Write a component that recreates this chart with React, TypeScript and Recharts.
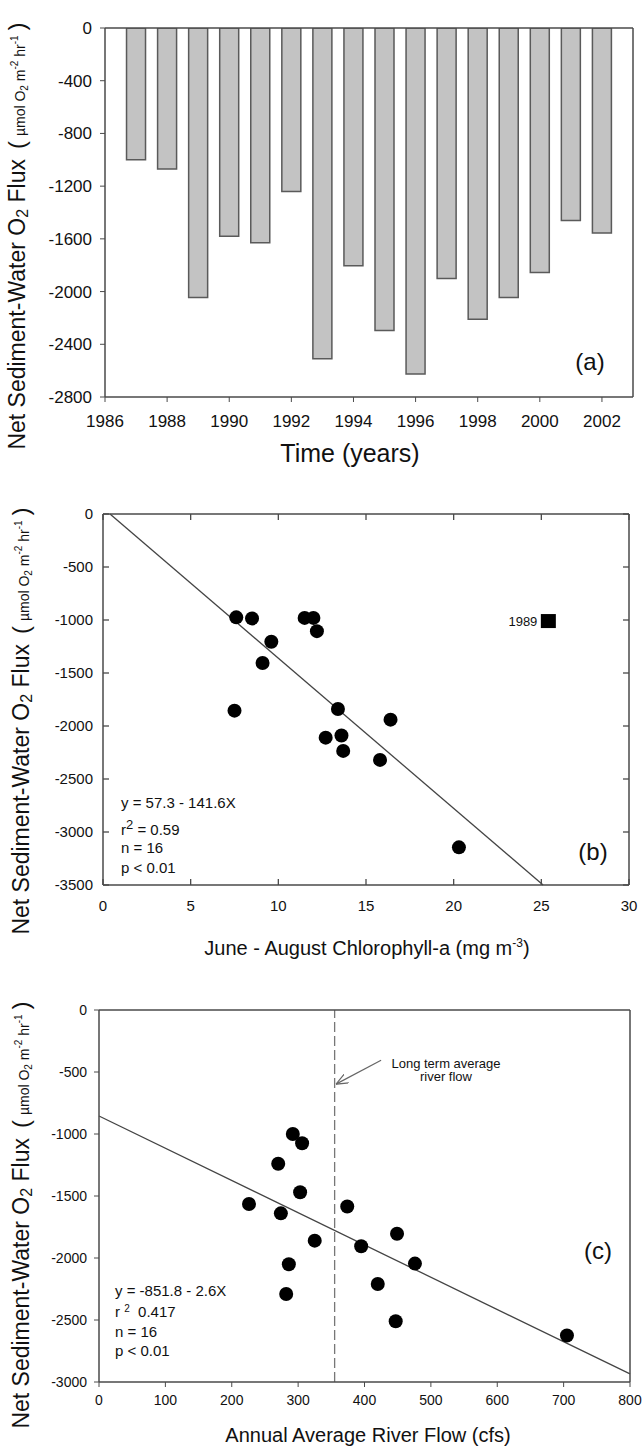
import React from "react";
import { ComposedChart, ScatterChart, Bar, Scatter, XAxis, YAxis, ReferenceLine } from "recharts";

// (a) yearly net sediment-water O2 flux
const years = [1987, 1988, 1989, 1990, 1991, 1992, 1993, 1994, 1995, 1996, 1997, 1998, 1999, 2000, 2001, 2002];
const fluxByYear = [-1000, -1070, -2045, -1580, -1630, -1240, -2510, -1805, -2295, -2625, -1900, -2210, -2045, -1855, -1460, -1555];
const yearTicks = [1986, 1988, 1990, 1992, 1994, 1996, 1998, 2000, 2002];
const fluxTicksA = [0, -400, -800, -1200, -1600, -2000, -2400, -2800];

// (b) flux vs June-August chlorophyll-a
const chlA = [7.6, 8.5, 11.5, 12.0, 12.2, 9.6, 9.1, 7.5, 13.4, 16.4, 12.7, 13.6, 13.7, 15.8, 20.3];
const fluxB = [-975, -985, -980, -980, -1105, -1205, -1405, -1855, -1840, -1940, -2110, -2090, -2235, -2320, -3145];
const outlierYear = ["1989"];
const outlierChl = [25.4];
const outlierFlux = [-1010];
const fitB = [{ x: 0.4, y: 0 }, { x: 25.1, y: -3500 }];
const chlTicks = [0, 5, 10, 15, 20, 25, 30];
const fluxTicksB = [0, -500, -1000, -1500, -2000, -2500, -3000, -3500];

// (c) flux vs annual average river flow
const riverFlow = [226, 270, 274, 292, 306, 303, 325, 286, 282, 374, 395, 449, 476, 420, 447, 705];
const fluxC = [-1565, -1240, -1640, -1000, -1075, -1470, -1860, -2050, -2290, -1585, -1905, -1805, -2045, -2210, -2510, -2625];
const fitC = [{ x: 0, y: -855 }, { x: 800, y: -2935 }];
const avgFlow = 355;
const arrowC = [{ x: 425, y: -405 }, { x: 357, y: -598 }];
const flowTicks = [0, 100, 200, 300, 400, 500, 600, 700, 800];
const fluxTicksC = [0, -500, -1000, -1500, -2000, -2500, -3000];

const barData = years.map((year, i) => ({ year, flux: fluxByYear[i] }));
const chlData = chlA.map((x, i) => ({ x, y: fluxB[i] }));
const outlierData = outlierYear.map((year, i) => ({ year, x: outlierChl[i], y: outlierFlux[i] }));
const flowData = riverFlow.map((x, i) => ({ x, y: fluxC[i] }));

const axisColor = "#4a4a4a";
const ink = "#111";
const frame = { stroke: axisColor, strokeWidth: 1.5 };

// panel (b) layout: 643x440 chart, margins top 33 / right 13 / bottom 5, axes 1 + 30 high, 103 + 1 wide
const B_W = 643 - 13 - 1 - 103;
const B_H = 440 - 33 - 1 - 5 - 30;
const IN = 6; // inward tick length

const dot = (p: any) => <circle cx={p.cx} cy={p.cy} r={7} fill="#000" />;
const square = (p: any) => (
  <g>
    <rect x={p.cx - 7.5} y={p.cy - 7} width={15} height={14} fill="#000" />
    <text x={p.cx - 11} y={p.cy} dy="0.35em" textAnchor="end" fontSize={13} fill={ink}>
      {p.payload.year}
    </text>
  </g>
);

// panel (b) ticks point into the frame on all four sides; label offset = tickSize + tickMargin
const bottomTickB = (p: any) => {
  const axisY = p.y - 15;
  return (
    <g>
      <line x1={p.x} x2={p.x} y1={axisY} y2={axisY - IN} stroke={axisColor} strokeWidth={1.3} />
      <line x1={p.x} x2={p.x} y1={axisY - B_H} y2={axisY - B_H + IN} stroke={axisColor} strokeWidth={1.3} />
      <text x={p.x} y={p.y} dy="0.71em" textAnchor="middle" fontSize={15} fill={ink}>{p.payload.value}</text>
    </g>
  );
};
const leftTickB = (p: any) => {
  const axisX = p.x + 10;
  return (
    <g>
      <line x1={axisX} x2={axisX + IN} y1={p.y} y2={p.y} stroke={axisColor} strokeWidth={1.3} />
      <line x1={axisX + B_W} x2={axisX + B_W - IN} y1={p.y} y2={p.y} stroke={axisColor} strokeWidth={1.3} />
      <text x={p.x} y={p.y} dy="0.355em" textAnchor="end" fontSize={15} fill={ink}>{p.payload.value}</text>
    </g>
  );
};

function FluxLabel({ cx, cy }: { cx: number; cy: number }) {
  return (
    <div
      style={{
        position: "absolute", left: cx, top: cy, whiteSpace: "nowrap", color: ink, lineHeight: 1,
        transform: "translate(-50%, -50%) rotate(-90deg)",
      }}
    >
      <span style={{ fontSize: 23 }}>
        Net Sediment-Water O<span style={{ fontSize: 16, verticalAlign: -3 }}>2</span> Flux
      </span>
      <span style={{ fontSize: 24, marginLeft: 10 }}>(</span>
      <span style={{ fontSize: 14, margin: "0 5px" }}>
        µmol O<span style={{ fontSize: 10, verticalAlign: -3 }}>2</span> m<span style={{ fontSize: 10, verticalAlign: 7 }}>-2</span> hr<span style={{ fontSize: 10, verticalAlign: 7 }}>-1</span>
      </span>
      <span style={{ fontSize: 24 }}>)</span>
    </div>
  );
}

function Note({ x, y, size, center, children }: { x: number; y: number; size: number; center?: boolean; children: React.ReactNode }) {
  return (
    <div
      style={{
        position: "absolute", left: x, top: y, fontSize: size, color: ink, lineHeight: 1, whiteSpace: "nowrap",
        transform: center ? "translate(-50%, -50%)" : "translateY(-50%)", textAlign: "center",
      }}
    >
      {children}
    </div>
  );
}

export default function App() {
  return (
    <div style={{ position: "absolute", left: 0, top: 0, width: 643, height: 1446, background: "#fff", fontFamily: "'Liberation Sans', Arial, sans-serif" }}>
      <svg width={0} height={0} style={{ position: "absolute" }}>
        <defs>
          <marker id="openArrow" viewBox="0 0 12 10" refX={12} refY={5} markerWidth={12} markerHeight={10} markerUnits="userSpaceOnUse" orient="auto">
            <path d="M0,0 L12,5 L0,10" fill="none" stroke="#666" strokeWidth={1.2} />
          </marker>
        </defs>
      </svg>

      {/* (a) */}
      <div style={{ position: "absolute", left: 0, top: 0 }}>
        <ComposedChart width={643} height={440} data={barData} margin={{ top: 27, right: 9, left: 0, bottom: 13 }}>
          <XAxis dataKey="year" type="number" domain={[1986, 2003]} ticks={yearTicks} interval={0} allowDataOverflow
            height={30} tickSize={5} tickMargin={13} stroke={axisColor} axisLine={frame} tick={{ fill: ink, fontSize: 17 }} />
          <XAxis xAxisId="top" orientation="top" type="number" domain={[1986, 2003]} ticks={yearTicks} allowDataOverflow
            height={1} tick={false} tickLine={false} stroke={axisColor} axisLine={frame} />
          <YAxis type="number" domain={[-2800, 0]} ticks={fluxTicksA} interval={0} allowDataOverflow
            width={105} tickSize={5} tickMargin={8} stroke={axisColor} axisLine={frame} tick={{ fill: ink, fontSize: 17 }} />
          <YAxis yAxisId="right" orientation="right" type="number" domain={[-2800, 0]} ticks={fluxTicksA} allowDataOverflow
            width={1} tick={false} tickLine={false} stroke={axisColor} axisLine={frame} />
          <Bar dataKey="flux" barSize={19} fill="#c3c3c3" stroke="#5a5a5a" strokeWidth={1.5} isAnimationActive={false} />
        </ComposedChart>
      </div>
      <FluxLabel cx={18} cy={236} />
      <Note x={590} y={362} size={24} center>(a)</Note>
      <Note x={350} y={453} size={25} center>Time (years)</Note>

      {/* (b) */}
      <div style={{ position: "absolute", left: 0, top: 480 }}>
        <ScatterChart width={643} height={440} margin={{ top: 33, right: 13, left: 0, bottom: 5 }}>
          <XAxis dataKey="x" type="number" domain={[0, 30]} ticks={chlTicks} interval={0} allowDataOverflow
            height={30} tickSize={6} tickMargin={9} tickLine={false} stroke={axisColor} axisLine={frame} tick={bottomTickB} />
          <XAxis xAxisId="top" orientation="top" type="number" domain={[0, 30]} ticks={chlTicks} allowDataOverflow
            height={1} tick={false} tickLine={false} stroke={axisColor} axisLine={frame} />
          <YAxis dataKey="y" type="number" domain={[-3500, 0]} ticks={fluxTicksB} interval={0} allowDataOverflow
            width={103} tickSize={6} tickMargin={4} tickLine={false} stroke={axisColor} axisLine={frame} tick={leftTickB} />
          <YAxis yAxisId="right" orientation="right" type="number" domain={[-3500, 0]} ticks={fluxTicksB} allowDataOverflow
            width={1} tick={false} tickLine={false} stroke={axisColor} axisLine={frame} />
          <ReferenceLine segment={fitB} stroke="#444" strokeWidth={1.3} />
          <Scatter data={chlData} shape={dot} isAnimationActive={false} />
          <Scatter data={outlierData} shape={square} isAnimationActive={false} />
        </ScatterChart>
      </div>
      <FluxLabel cx={22} cy={721} />
      <Note x={121} y={802} size={15}>y = 57.3 - 141.6X</Note>
      <Note x={121} y={827} size={15}>r<span style={{ fontSize: 13, verticalAlign: 6 }}>2</span> = 0.59</Note>
      <Note x={121} y={847} size={15}>n = 16</Note>
      <Note x={121} y={867} size={15}>p &lt; 0.01</Note>
      <Note x={593} y={852} size={24} center>(b)</Note>
      <Note x={367} y={947} size={20} center>
        June - August Chlorophyll-a (mg m<span style={{ fontSize: 12, verticalAlign: 8 }}>-3</span>)
      </Note>

      {/* (c) */}
      <div style={{ position: "absolute", left: 0, top: 980 }}>
        <ScatterChart width={643} height={440} margin={{ top: 29, right: 12, left: 0, bottom: 8 }}>
          <XAxis dataKey="x" type="number" domain={[0, 800]} ticks={flowTicks} interval={0} allowDataOverflow
            height={30} tickSize={5} tickMargin={8} stroke={axisColor} axisLine={frame} tick={{ fill: ink, fontSize: 14 }} />
          <XAxis xAxisId="top" orientation="top" type="number" domain={[0, 800]} ticks={flowTicks} allowDataOverflow
            height={1} tick={false} tickLine={false} stroke={axisColor} axisLine={frame} />
          <YAxis dataKey="y" type="number" domain={[-3000, 0]} ticks={fluxTicksC} interval={0} allowDataOverflow
            width={99} tickSize={5} tickMargin={7} stroke={axisColor} axisLine={frame} tick={{ fill: ink, fontSize: 14 }} />
          <YAxis yAxisId="right" orientation="right" type="number" domain={[-3000, 0]} ticks={fluxTicksC} allowDataOverflow
            width={1} tick={false} tickLine={false} stroke={axisColor} axisLine={frame} />
          <ReferenceLine x={avgFlow} stroke="#777" strokeWidth={1.3} strokeDasharray="10 4" />
          <ReferenceLine segment={fitC} stroke="#444" strokeWidth={1.3} />
          <ReferenceLine segment={arrowC} stroke="#666" strokeWidth={1.2} markerEnd="url(#openArrow)" />
          <Scatter data={flowData} shape={dot} isAnimationActive={false} />
        </ScatterChart>
      </div>
      <FluxLabel cx={22} cy={1215} />
      <Note x={446} y={1070} size={13} center>
        Long term average<br />river flow
      </Note>
      <Note x={115} y={1290} size={15}>y = -851.8 - 2.6X</Note>
      <Note x={115} y={1311} size={15}>r <span style={{ fontSize: 10, verticalAlign: 5 }}>2</span>&nbsp; 0.417</Note>
      <Note x={115} y={1331} size={15}>n = 16</Note>
      <Note x={115} y={1350} size={15}>p &lt; 0.01</Note>
      <Note x={598} y={1251} size={24} center>(c)</Note>
      <Note x={368} y={1435} size={20} center>Annual Average River Flow (cfs)</Note>
    </div>
  );
}
